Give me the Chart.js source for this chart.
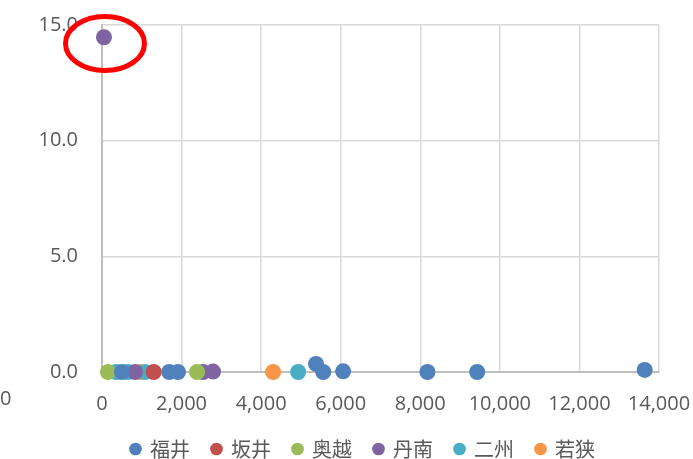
<!DOCTYPE html>
<html>
<head>
<meta charset="utf-8">
<script src="https://cdn.jsdelivr.net/npm/chart.js@4.4.1/dist/chart.umd.min.js"></script>
<style>
  html, body { margin: 0; padding: 0; background: #fff; }
  #wrap { width: 693px; height: 459px; }
</style>
</head>
<body>
<div id="wrap"><canvas id="myChart"></canvas></div>
<script>
// series names and colours
var names = ['福井', '坂井', '奥越', '丹南', '二州', '若狭'];
var colors = ['#4f81bd', '#c0504d', '#9bbb59', '#8064a2', '#4bacc6', '#f79646'];

// values (x, y per series)
var fukuiX = [500, 1690, 1910, 5380, 5560, 6060, 8180, 9430, 13640];
var fukuiY = [0, 0, 0, 0.35, 0, 0.03, 0, 0, 0.09];
var sakaiX = [1300];
var sakaiY = [0];
var okuetsuX = [150, 2390];
var okuetsuY = [0, 0];
var tannanX = [50, 830, 2540, 2790];
var tannanY = [14.47, 0, 0, 0.02];
var nishuX = [350, 650, 1080, 4930];
var nishuY = [0, 0, 0, 0];
var wakasaX = [950, 4300];
var wakasaY = [0, 0];

var allX = [fukuiX, sakaiX, okuetsuX, tannanX, nishuX, wakasaX];
var allY = [fukuiY, sakaiY, okuetsuY, tannanY, nishuY, wakasaY];

var xTicks = [0, 2000, 4000, 6000, 8000, 10000, 12000, 14000];
var yTicks = [0, 5, 10, 15];

// the red circle marking the outlier
var markX = 75;
var markY = 14.2;

function pts(xs, ys) {
    return xs.map(function(x, i) { return { x: x, y: ys[i] }; });
}

var datasets = names.map(function(n, i) {
    return {
        label: n,
        data: pts(allX[i], allY[i]),
        backgroundColor: colors[i],
        borderColor: colors[i],
        borderWidth: 0,
        pointRadius: 8,
        pointHoverRadius: 8,
        clip: false
    };
});

var markPlugin = {
    id: 'mark',
    afterDraw: function(chart) {
        var ctx = chart.ctx;
        var cx = chart.scales.x.getPixelForValue(markX);
        var cy = chart.scales.y.getPixelForValue(markY);
        ctx.save();
        ctx.beginPath();
        ctx.ellipse(cx, cy, 39.5, 27, 0, 0, Math.PI * 2);
        ctx.lineWidth = 5;
        ctx.strokeStyle = '#ff0000';
        ctx.stroke();
        // clipped label at the far left
        ctx.fillStyle = '#595959';
        ctx.font = '20px "Open Sans"';
        ctx.textAlign = 'left';
        ctx.textBaseline = 'middle';
        ctx.fillText('0', 0, 399);
        ctx.restore();
    }
};

var tickFont = { family: '"Open Sans"', size: 20 };
var clear = 'rgba(0,0,0,0)';

var config = {
    type: 'scatter',
    data: { datasets: datasets },
    options: {
        responsive: true,
        maintainAspectRatio: false,
        animation: false,
        layout: { padding: { left: 33, right: 0, top: 25, bottom: -10 } },
        scales: {
            x: {
                type: 'linear',
                min: 0,
                max: 14000,
                afterBuildTicks: function(s) { s.ticks = xTicks.map(function(v) { return { value: v }; }); },
                afterFit: function(s) { s.height = 45; },
                grid: { color: '#d9d9d9', lineWidth: 1.5, drawTicks: true, tickLength: 20, tickColor: clear },
                border: { color: '#bfbfbf', width: 2 },
                ticks: {
                    color: '#595959',
                    padding: 0,
                    maxRotation: 0,
                    autoSkip: false,
                    font: tickFont,
                    callback: function(v) { return v.toLocaleString('en-US'); }
                }
            },
            y: {
                min: 0,
                max: 15,
                afterBuildTicks: function(s) { s.ticks = yTicks.map(function(v) { return { value: v }; }); },
                afterFit: function(s) { s.width = 69; },
                grid: { color: '#d9d9d9', lineWidth: 1.5, drawTicks: true, tickLength: 24, tickColor: clear },
                border: { color: '#bfbfbf', width: 2 },
                ticks: {
                    color: '#595959',
                    padding: 0,
                    font: tickFont,
                    callback: function(v) { return v.toFixed(1); }
                }
            },
            // empty right-hand strip, keeps the plot off the right edge
            side: {
                type: 'linear',
                position: 'right',
                display: true,
                grid: { display: false, drawTicks: false },
                border: { display: false },
                ticks: { display: false },
                afterFit: function(s) { s.width = 34; }
            }
        },
        plugins: {
            tooltip: { enabled: false },
            legend: {
                position: 'bottom',
                labels: {
                    usePointStyle: true,
                    pointStyle: 'circle',
                    boxHeight: 9,
                    boxWidth: 9,
                    padding: 22,
                    color: '#595959',
                    font: { family: '"Noto Sans CJK JP"', size: 20 }
                }
            }
        }
    },
    plugins: [markPlugin]
};

var myChart = new Chart(document.getElementById('myChart'), config);
</script>
</body>
</html>
